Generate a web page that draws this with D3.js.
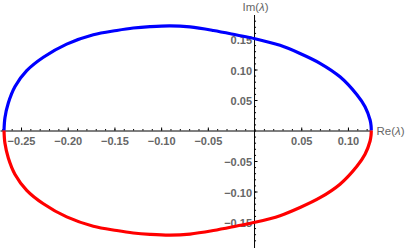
<!DOCTYPE html>
<html>
<head>
<meta charset="utf-8">
<script src="https://cdn.jsdelivr.net/npm/d3@7"></script>
<style>
  body { margin: 0; background: #fff; }
  svg { display: block; font-family: "Liberation Sans", Arial, sans-serif; }
  .tick text { fill: #666; font-size: 11px; font-weight: bold; }
  .lbl { fill: #666; font-size: 11.5px; }
</style>
</head>
<body>
<div id="graph"></div>
<script>
// eigenvalue branches: Re(λ) and Im(λ) for the blue (upper) and red (lower) curve
const reVals = [-0.2682, -0.2672, -0.2636, -0.2564, -0.2439, -0.2261, -0.2011, -0.1726, -0.1475, -0.1298,
  -0.1119, -0.0905, -0.0691, -0.0441, -0.0191, 0.0005, 0.0273, 0.0487, 0.0701, 0.0915,
  0.1094, 0.1183, 0.1237, 0.1247, 0.1250]
const imUpper = [0.0, 0.021, 0.045, 0.072, 0.098, 0.120, 0.1416, 0.1569, 0.164, 0.168,
  0.1703, 0.1716, 0.1698, 0.164, 0.1566, 0.1505, 0.1396, 0.1263, 0.1102, 0.088,
  0.059, 0.039, 0.0172, 0.0083, 0.0]
const imLower = [0.0, -0.021, -0.045, -0.072, -0.098, -0.120, -0.1416, -0.1569, -0.164, -0.168,
  -0.1703, -0.1716, -0.1698, -0.164, -0.1566, -0.1505, -0.1396, -0.1263, -0.1102, -0.088,
  -0.059, -0.039, -0.0172, -0.0083, 0.0]

const xTicks = [-0.25, -0.20, -0.15, -0.10, -0.05, 0.05, 0.10]
const yTicks = [-0.15, -0.10, -0.05, 0.05, 0.10, 0.15]
const xMinor = d3.range(-27, 13).map(d => d / 100)
const yMinor = d3.range(-18, 19).map(d => d / 100)

const width = 405; const height = 248

const x = d3.scaleLinear().domain([-0.2725, 0.125]).range([0, 371.3])
const y = d3.scaleLinear().domain([-0.19, 0.19]).range([246.4, 14.6])

const svg = d3.select('#graph').append('svg')
  .attr('width', width).attr('height', height)

const fmt = d3.format('.2f')

// x axis, ticks pointing up
svg.append('g')
  .attr('transform', 'translate(0,' + y(0) + ')')
  .call(d3.axisBottom(x).tickValues(xMinor).tickSize(-1.5).tickSizeOuter(0).tickFormat(''))
  .call(g => g.select('.domain').attr('stroke', '#000'))
svg.append('g')
  .attr('transform', 'translate(0,' + y(0) + ')')
  .call(d3.axisBottom(x).tickValues(xTicks).tickSize(-3).tickPadding(6.8).tickFormat(fmt))
  .call(g => g.select('.domain').remove())

// y axis, ticks pointing right
svg.append('g')
  .attr('transform', 'translate(' + x(0) + ',0)')
  .call(d3.axisLeft(y).tickValues(yMinor).tickSize(-1.5).tickSizeOuter(0).tickFormat(''))
  .call(g => g.select('.domain').attr('stroke', '#000').attr('d', 'M0,15V248'))
svg.append('g')
  .attr('transform', 'translate(' + x(0) + ',0)')
  .call(d3.axisLeft(y).tickValues(yTicks).tickSize(-3).tickPadding(2.5).tickFormat(fmt))
  .call(g => g.select('.domain').remove())
  .selectAll('text').attr('dy', '0.45em')

svg.selectAll('.tick line').attr('stroke', '#000')

// axis labels
const re = svg.append('text').attr('class', 'lbl')
  .attr('x', 376.5).attr('y', y(0)).attr('dy', '0.42em')
re.append('tspan').text('Re(')
re.append('tspan').style('font-style', 'italic').text('λ')
re.append('tspan').text(')')

const im = svg.append('text').attr('class', 'lbl')
  .attr('x', x(0) + 1).attr('y', 7.3).attr('dy', '0.36em').attr('text-anchor', 'middle')
im.append('tspan').text('Im(')
im.append('tspan').style('font-style', 'italic').text('λ')
im.append('tspan').text(')')

// curves
const line = d3.line()
  .x(d => x(d[0]))
  .y(d => y(d[1]))
  .curve(d3.curveCatmullRom.alpha(0.5))

svg.append('path')
  .datum(reVals.map((r, i) => [r, imUpper[i]]))
  .attr('d', line)
  .attr('fill', 'none')
  .attr('stroke', '#0000ff')
  .attr('stroke-width', 3.2)

svg.append('path')
  .datum(reVals.map((r, i) => [r, imLower[i]]))
  .attr('d', line)
  .attr('fill', 'none')
  .attr('stroke', '#ff0000')
  .attr('stroke-width', 3.2)
</script>
</body>
</html>
